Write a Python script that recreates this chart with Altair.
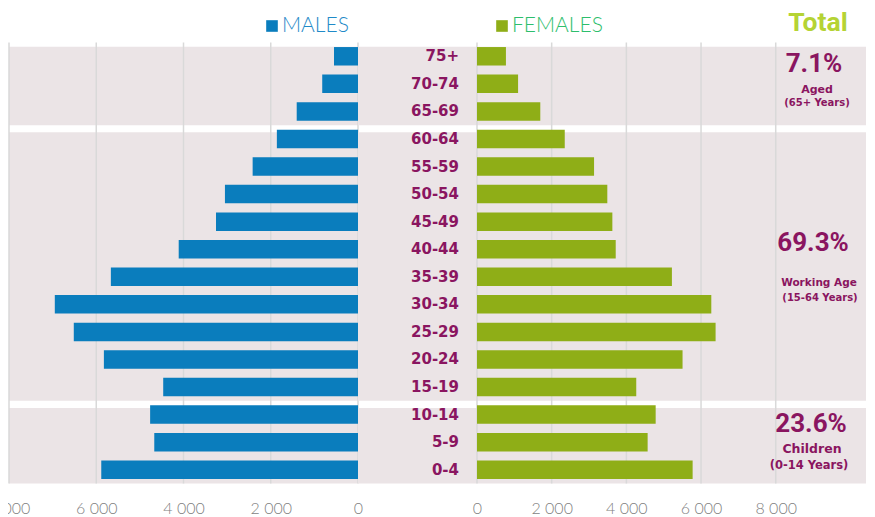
import altair as alt
import pandas as pd

# ---------------- data ----------------
ages = ["75+", "70-74", "65-69", "60-64", "55-59", "50-54", "45-49", "40-44",
        "35-39", "30-34", "25-29", "20-24", "15-19", "10-14", "5-9", "0-4"]
males = [550, 820, 1405, 1860, 2415, 3050, 3255, 4110,
         5665, 6950, 6515, 5825, 4465, 4765, 4670, 5885]
females = [775, 1100, 1695, 2350, 3135, 3490, 3625, 3715,
           5220, 6275, 6390, 5505, 4265, 4785, 4570, 5775]
ticks = [0, 2000, 4000, 6000, 8000]

group_start = [0, 3, 13]
group_end = [3, 13, 16]
group_pct = ["7.1%", "69.3%", "23.6%"]
group_name = ["Aged", "Working Age", "Children"]
group_range = ["(65+ Years)", "(15-64 Years)", "(0-14 Years)"]
legend_labels = ["MALES", "FEMALES"]
total_label = "Total"

pop = pd.DataFrame({"age": ages, "male": males, "female": females})
groups = pd.DataFrame({"start": group_start, "end": group_end})
tick_df = pd.DataFrame({"tick": ticks})

# ---------------- style ----------------
H = 441
WL, WC, WR = 349, 119, 389
BG = "#ebe4e6"
GRID = "#d9d9d9"
BLUE = "#0a7dbd"
GREEN = "#8fae17"
MAROON = "#8a1560"
AXIS_GRAY = "#7f7f7f"

band = alt.Scale(paddingInner=0.33, paddingOuter=0.165)
yband = alt.Y("age:N", sort=ages, scale=band, axis=None)
rows_scale = alt.Scale(domain=[0, 16], reverse=True, nice=False, zero=False)


def background(width):
    return alt.Chart(groups).transform_calculate(
        y0="datum.start == 0 ? 0.15 : datum.start + 0.26"
    ).mark_rect(color=BG).encode(
        x=alt.value(0), x2=alt.value(width),
        y=alt.Y("y0:Q", scale=rows_scale, axis=None),
        y2="end:Q",
    )


def xaxis():
    return alt.Axis(values=ticks, grid=False, domain=False, ticks=False, title=None,
                    labelExpr="replace(format(datum.value, ','), ',', ' ')",
                    labelFont="Lato", labelFontSize=16, labelFontWeight=300,
                    labelColor=AXIS_GRAY, labelPadding=17, labelFlush=False,
                    labelOverlap=False)


def x_enc(field, scale):
    return alt.X(field, scale=scale, axis=xaxis())


def label_text(txt, x, y, size, color, font="DejaVu Sans", weight="bold", align="center"):
    return alt.Chart(pd.DataFrame({"t": [txt]})).mark_text(
        align=align, baseline="middle", font=font, fontSize=size,
        fontWeight=weight, color=color
    ).encode(x=alt.value(x), y=alt.value(y), text="t:N")


def square(x, y, color):
    return alt.Chart(pd.DataFrame({"t": ["sq"]})).mark_square(
        size=135, color=color, opacity=1, filled=True
    ).encode(x=alt.value(x), y=alt.value(y))


# ---------------- left panel (males) ----------------
lscale = alt.Scale(domain=[0, 8000], reverse=True, nice=False)
left = alt.layer(
    background(WL),
    alt.Chart(tick_df).mark_rule(color=GRID, strokeWidth=1.5).encode(x=x_enc("tick:Q", lscale)),
    alt.Chart(pop).mark_bar(color=BLUE).encode(x=x_enc("male:Q", lscale), y=yband),
    square(263, -16.5, BLUE),
    label_text(legend_labels[0], 273, -17, 21, "#1f8ac8", font="Lato", weight=300, align="left"),
).resolve_scale(y="independent").properties(width=WL, height=H)

# ---------------- center panel (age labels) ----------------
center = alt.layer(
    background(WC),
    alt.Chart(pop).mark_text(align="right", baseline="middle", font="DejaVu Sans",
                             fontSize=15, fontWeight="bold", color=MAROON
                             ).encode(x=alt.value(101), y=yband, text="age:N"),
).resolve_scale(y="independent").properties(width=WC, height=H)

# ---------------- right panel (females) ----------------
rscale = alt.Scale(domain=[0, 10418], nice=False)
ann = [
    label_text(group_pct[0], 337, 21, 26, MAROON, font="Roboto"),
    label_text(group_name[0], 340, 47, 11, MAROON),
    label_text(group_range[0], 340, 60.5, 10, MAROON),
    label_text(group_pct[1], 336, 200.5, 26, MAROON, font="Roboto"),
    label_text(group_name[1], 342, 240.5, 10.5, MAROON),
    label_text(group_range[1], 343, 255.5, 10, MAROON),
    label_text(group_pct[2], 334, 381.5, 26, MAROON, font="Roboto"),
    label_text(group_name[2], 335, 406.5, 12.5, MAROON),
    label_text(group_range[2], 332, 423.5, 11.5, MAROON),
]
right = alt.layer(
    background(WR),
    alt.Chart(tick_df).mark_rule(color=GRID, strokeWidth=1.5).encode(x=x_enc("tick:Q", rscale)),
    alt.Chart(pop).mark_bar(color=GREEN).encode(x=x_enc("female:Q", rscale), y=yband),
    square(25, -16.5, GREEN),
    label_text(legend_labels[1], 35, -17, 21, "#2dbe6c", font="Lato", weight=300, align="left"),
    label_text(total_label, 341, -19.5, 26.5, "#b5d334", font="Roboto"),
    *ann,
).resolve_scale(y="independent").properties(width=WR, height=H)

chart = alt.hconcat(left, center, right, spacing=0, bounds="flush").properties(
    padding={"left": -20, "top": 1.5, "right": 0, "bottom": 0}
).configure_view(stroke=None)

chart.save("out.html", embed_options={"renderer": "svg", "actions": False})
